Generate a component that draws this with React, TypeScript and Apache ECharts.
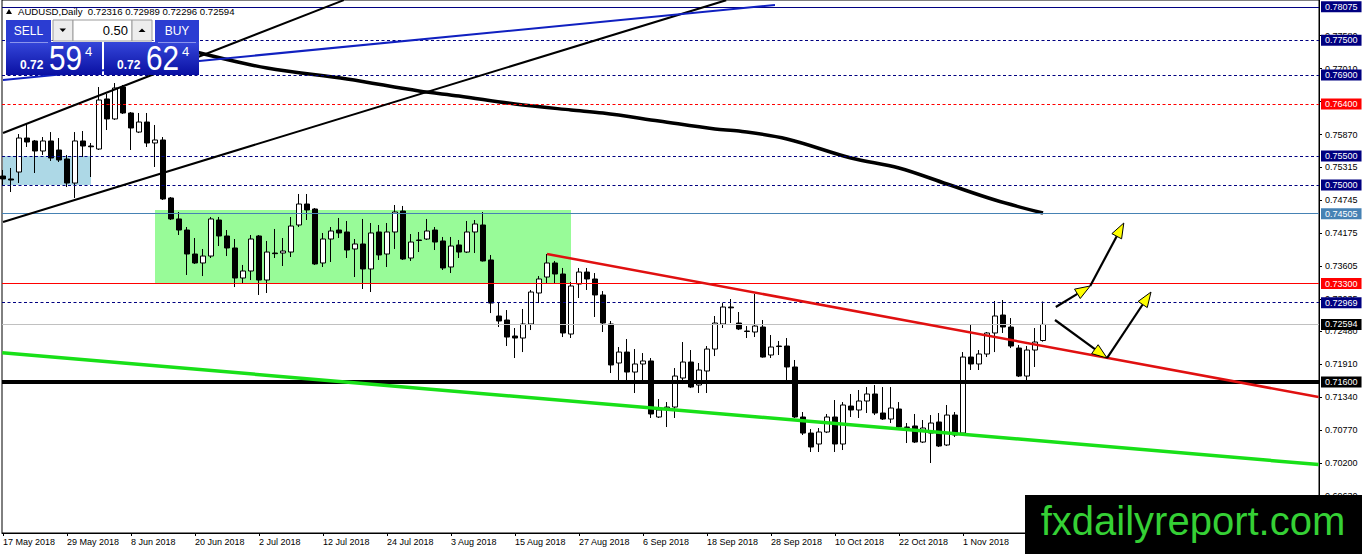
import React, { useEffect, useRef } from 'react';
import * as echarts from 'echarts';

// ---------- DATA ----------
// Daily AUDUSD candles from 17 May 2018: [open, close, low, high]
const ohlc: number[][] = [
  [0.75155, 0.75104, 0.74982, 0.75259],
  [0.75104, 0.75086, 0.74879, 0.75294],
  [0.75224, 0.75811, 0.75034, 0.75880],
  [0.75811, 0.75742, 0.75656, 0.76053],
  [0.75760, 0.75587, 0.75207, 0.75777],
  [0.75587, 0.75760, 0.75518, 0.75828],
  [0.75760, 0.75466, 0.75415, 0.75914],
  [0.75604, 0.75432, 0.75397, 0.75811],
  [0.75449, 0.75034, 0.74965, 0.75518],
  [0.75034, 0.75760, 0.74776, 0.75914],
  [0.75760, 0.75673, 0.75483, 0.75932],
  [0.75673, 0.75660, 0.75138, 0.75725],
  [0.75621, 0.76467, 0.75604, 0.76691],
  [0.76485, 0.76140, 0.75949, 0.76571],
  [0.76140, 0.76674, 0.76122, 0.76760],
  [0.76691, 0.76243, 0.76226, 0.76726],
  [0.76243, 0.75984, 0.75604, 0.76260],
  [0.75914, 0.76087, 0.75897, 0.76243],
  [0.76087, 0.75725, 0.75656, 0.76243],
  [0.75725, 0.75777, 0.75311, 0.76036],
  [0.75777, 0.74759, 0.74741, 0.75828],
  [0.74776, 0.74414, 0.74396, 0.74793],
  [0.74414, 0.74223, 0.74137, 0.74534],
  [0.74223, 0.73809, 0.73447, 0.74275],
  [0.73809, 0.73654, 0.73637, 0.74085],
  [0.73654, 0.73774, 0.73429, 0.73896],
  [0.73774, 0.74414, 0.73740, 0.74448],
  [0.74396, 0.74120, 0.73947, 0.74448],
  [0.74120, 0.73913, 0.73774, 0.74223],
  [0.73913, 0.73395, 0.73239, 0.74068],
  [0.73395, 0.73516, 0.73308, 0.73620],
  [0.73516, 0.74068, 0.73360, 0.74137],
  [0.74120, 0.73360, 0.73102, 0.74137],
  [0.73360, 0.73843, 0.73136, 0.74034],
  [0.73826, 0.73815, 0.73740, 0.74241],
  [0.73826, 0.73861, 0.73602, 0.74085],
  [0.73843, 0.74292, 0.73757, 0.74448],
  [0.74310, 0.74672, 0.74275, 0.74845],
  [0.74672, 0.74569, 0.74396, 0.74845],
  [0.74586, 0.73637, 0.73620, 0.74603],
  [0.73654, 0.74068, 0.73585, 0.74172],
  [0.74068, 0.74206, 0.73671, 0.74275],
  [0.74223, 0.74172, 0.74085, 0.74431],
  [0.74189, 0.73878, 0.73740, 0.74379],
  [0.73896, 0.73982, 0.73412, 0.74068],
  [0.73982, 0.73551, 0.73205, 0.74414],
  [0.73551, 0.74172, 0.73153, 0.74344],
  [0.74189, 0.73792, 0.73706, 0.74310],
  [0.73809, 0.74189, 0.73585, 0.74344],
  [0.74189, 0.74534, 0.73896, 0.74655],
  [0.74551, 0.73723, 0.73706, 0.74638],
  [0.73740, 0.74016, 0.73689, 0.74154],
  [0.74051, 0.74042, 0.73843, 0.74189],
  [0.74068, 0.74206, 0.74051, 0.74414],
  [0.74223, 0.74016, 0.73878, 0.74275],
  [0.74034, 0.73568, 0.73533, 0.74103],
  [0.73585, 0.73947, 0.73481, 0.74103],
  [0.73965, 0.73843, 0.73740, 0.74051],
  [0.73843, 0.74189, 0.73826, 0.74379],
  [0.74189, 0.74327, 0.73826, 0.74396],
  [0.74310, 0.73689, 0.73680, 0.74534],
  [0.73706, 0.72963, 0.72790, 0.73792],
  [0.72739, 0.72653, 0.72549, 0.72980],
  [0.72670, 0.72376, 0.72221, 0.72842],
  [0.72394, 0.72359, 0.72014, 0.72532],
  [0.72359, 0.72601, 0.72117, 0.72860],
  [0.72601, 0.73153, 0.72497, 0.73188],
  [0.73136, 0.73378, 0.72963, 0.73429],
  [0.73412, 0.73654, 0.73308, 0.73809],
  [0.73654, 0.73464, 0.73308, 0.73689],
  [0.73464, 0.72446, 0.72376, 0.73568],
  [0.72428, 0.73257, 0.72359, 0.73326],
  [0.73291, 0.73498, 0.73050, 0.73568],
  [0.73498, 0.73378, 0.73188, 0.73568],
  [0.73378, 0.73102, 0.72722, 0.73481],
  [0.73102, 0.72618, 0.72463, 0.73170],
  [0.72601, 0.71894, 0.71755, 0.72653],
  [0.71928, 0.72117, 0.71634, 0.72204],
  [0.72117, 0.71772, 0.71634, 0.72342],
  [0.71772, 0.71911, 0.71410, 0.72169],
  [0.71911, 0.71963, 0.71634, 0.72100],
  [0.71963, 0.71048, 0.70979, 0.72014],
  [0.70996, 0.71117, 0.70979, 0.71306],
  [0.71151, 0.71168, 0.70823, 0.71254],
  [0.71168, 0.71703, 0.70979, 0.71841],
  [0.71669, 0.71945, 0.71582, 0.72290],
  [0.71945, 0.71513, 0.71496, 0.72152],
  [0.71548, 0.71807, 0.71410, 0.71928],
  [0.71790, 0.72169, 0.71410, 0.72221],
  [0.72169, 0.72618, 0.72048, 0.72739],
  [0.72601, 0.72894, 0.72532, 0.72963],
  [0.72894, 0.72880, 0.72618, 0.73032],
  [0.72618, 0.72515, 0.72497, 0.72808],
  [0.72480, 0.72472, 0.72359, 0.72566],
  [0.72463, 0.72566, 0.72376, 0.73119],
  [0.72549, 0.72031, 0.72020, 0.72670],
  [0.72066, 0.72204, 0.72014, 0.72411],
  [0.72221, 0.72212, 0.72066, 0.72308],
  [0.72221, 0.71859, 0.71634, 0.72359],
  [0.71859, 0.70996, 0.70979, 0.71980],
  [0.70996, 0.70719, 0.70685, 0.71082],
  [0.70719, 0.70478, 0.70392, 0.70789],
  [0.70530, 0.70737, 0.70392, 0.70806],
  [0.70737, 0.70996, 0.70719, 0.71048],
  [0.70996, 0.70530, 0.70392, 0.71289],
  [0.70530, 0.71203, 0.70426, 0.71254],
  [0.71185, 0.71117, 0.70996, 0.71393],
  [0.71117, 0.71272, 0.70979, 0.71462],
  [0.71272, 0.71393, 0.71065, 0.71513],
  [0.71393, 0.71065, 0.71030, 0.71548],
  [0.71065, 0.70961, 0.70944, 0.71513],
  [0.70961, 0.71151, 0.70892, 0.71513],
  [0.71134, 0.70823, 0.70806, 0.71254],
  [0.70823, 0.70815, 0.70547, 0.70892],
  [0.70841, 0.70564, 0.70547, 0.71048],
  [0.70564, 0.70806, 0.70547, 0.70944],
  [0.70719, 0.70892, 0.70202, 0.71030],
  [0.70910, 0.70495, 0.70478, 0.71065],
  [0.70513, 0.71030, 0.70495, 0.71203],
  [0.71030, 0.70685, 0.70651, 0.71082],
  [0.70719, 0.72031, 0.70710, 0.72117],
  [0.72031, 0.71911, 0.71807, 0.72584],
  [0.71911, 0.72083, 0.71807, 0.72152],
  [0.72083, 0.72446, 0.72031, 0.72463],
  [0.72446, 0.72739, 0.72117, 0.72998],
  [0.72756, 0.72549, 0.72446, 0.73015],
  [0.72549, 0.72221, 0.72186, 0.72704],
  [0.72186, 0.71703, 0.71686, 0.72238],
  [0.71703, 0.72152, 0.71600, 0.72221],
  [0.72152, 0.72290, 0.71859, 0.72532],
  [0.72316, 0.72594, 0.72296, 0.72989],
];

// Date labels, one every 8 trading days starting at bar 0
const dateTickLabels = [
  '17 May 2018', '29 May 2018', '8 Jun 2018', '20 Jun 2018', '2 Jul 2018', '12 Jul 2018',
  '24 Jul 2018', '3 Aug 2018', '15 Aug 2018', '27 Aug 2018', '6 Sep 2018', '18 Sep 2018',
  '28 Sep 2018', '10 Oct 2018', '22 Oct 2018', '1 Nov 2018',
];
const BARS_PER_DATE_TICK = 8;

// Price scale tick labels
const priceTickLabels = [
  0.77580, 0.77010, 0.76440, 0.75870, 0.75315, 0.74745, 0.74175, 0.73605,
  0.73035, 0.72480, 0.71910, 0.71340, 0.70770, 0.70200, 0.69630,
];

// Horizontal price levels
const levelValues = [0.78075, 0.775, 0.769, 0.764, 0.755, 0.75, 0.74505, 0.733, 0.72969, 0.72594, 0.716];

// 200-day moving average, read at selected bars: [bar, price]
const maPoints: number[][] = [
  [24, 0.77300], [33, 0.77019], [43, 0.76830], [52, 0.76623], [57, 0.76536],
  [64, 0.76398], [71, 0.76295], [75, 0.76243], [82, 0.76105], [89, 0.75967],
  [92, 0.75932], [98, 0.75794], [106, 0.75466], [112, 0.75294], [118, 0.75017],
  [124, 0.74741], [130, 0.74517],
];

// Trend lines: [fromBar, fromPrice, toBar, toPrice]
const trendLines: number[][] = [
  [0, 0.75897, 42.6, 0.78190],      // upper black channel line
  [0, 0.74362, 90.4, 0.78190],      // lower black channel line
  [0, 0.76812, 96.5, 0.78107],      // blue line
  [68, 0.73809, 164.45, 0.71341],   // red descending trend line
  [-0.1, 0.72104, 164.45, 0.70176], // green support line
];

// Rectangles: [fromBar, topPrice, toBar, bottomPrice]
const zones: number[][] = [
  [0, 0.75500, 11, 0.75000],
  [19, 0.74570, 71, 0.73300],
];

// Projection arrows: [fromBar, fromPrice, toBar, toPrice]
const arrowSegments: number[][] = [
  [131.6, 0.72894, 135.9, 0.73257],
  [135.9, 0.73257, 140.1, 0.74344],
  [131.5, 0.72670, 138.0, 0.72014],
  [138.0, 0.72014, 143.5, 0.73153],
];

const headerText = 'AUDUSD,Daily  0.72316 0.72989 0.72296 0.72594';
const sellQuote = ['0.72', '59', '4'];
const buyQuote = ['0.72', '62', '4'];
const lotSize = '0.50';

// ---------- STYLES ----------
const FONT = "'Liberation Sans', Arial, sans-serif";
const NAVY = '#000080';
const DASH = [3, 2.5];
const levelStyles = [
  { color: NAVY, type: 'solid', width: 1, bg: NAVY },
  { color: NAVY, type: DASH, width: 1, bg: NAVY },
  { color: NAVY, type: DASH, width: 1, bg: NAVY },
  { color: '#FF0000', type: DASH, width: 1, bg: '#FF0000' },
  { color: NAVY, type: DASH, width: 1, bg: NAVY },
  { color: NAVY, type: DASH, width: 1, bg: NAVY },
  { color: '#4682B4', type: 'solid', width: 1, bg: '#4682B4' },
  { color: '#FF0000', type: 'solid', width: 1.2, bg: '#FF0000' },
  { color: NAVY, type: DASH, width: 1, bg: NAVY },
  { color: '#C0C0C0', type: 'solid', width: 1, bg: '#000000' },
  { color: '#000000', type: 'solid', width: 4, bg: '#000000' },
];
const trendStyles = [
  { color: '#000000', width: 2 },
  { color: '#000000', width: 2 },
  { color: '#1020C0', width: 2 },
  { color: '#E01010', width: 2.5 },
  { color: '#18E018', width: 3.5 },
];
const zoneColors = ['#ADD8E6', '#98FB98'];

const X_MIN = -0.125;
const X_MAX = 164.5;
const Y_MIN = 0.68994;
const Y_MAX = 0.78193;

function buildOption() {
  const tickBars = dateTickLabels.map((_, k) => k * BARS_PER_DATE_TICK);
  const blueGrad = () =>
    new echarts.graphic.LinearGradient(0, 0, 0, 1, [
      { offset: 0, color: '#3446DA' },
      { offset: 1, color: '#0A10A2' },
    ]);
  const Z = 100;
  const txt = (x: number, y: number, text: string, size: number, opts: any = {}) => ({
    type: 'text', x, y, z: Z, silent: true,
    scaleX: opts.scaleX ?? 1,
    style: {
      text, fill: opts.fill ?? '#fff', fontSize: size, fontFamily: FONT,
      fontWeight: opts.bold ? 'bold' : 'normal',
      align: opts.align ?? 'left', verticalAlign: 'middle',
    },
  });
  const graphicEls: any[] = [
    // header
    { type: 'polygon', z: Z, silent: true, shape: { points: [[6, 14], [12, 14], [9, 9]] }, style: { fill: '#000' } },
    txt(18, 11.5, headerText, 9.6, { fill: '#000' }),
    // trading panel
    { type: 'rect', z: Z, silent: true, shape: { x: 6, y: 20, width: 45, height: 22 }, style: { fill: '#2B3DD2' } },
    txt(28.5, 31, 'SELL', 12, { align: 'center' }),
    { type: 'rect', z: Z, silent: true, shape: { x: 53, y: 20, width: 20, height: 21 }, style: { fill: '#EDEDED', stroke: '#9C9C9C', lineWidth: 1 } },
    { type: 'polygon', z: Z, silent: true, shape: { points: [[59.5, 28.5], [66, 28.5], [62.75, 32]] }, style: { fill: '#000' } },
    { type: 'rect', z: Z, silent: true, shape: { x: 73, y: 20, width: 59, height: 21 }, style: { fill: '#fff', stroke: '#9C9C9C', lineWidth: 1 } },
    txt(128, 30.5, lotSize, 13, { fill: '#000', align: 'right' }),
    { type: 'rect', z: Z, silent: true, shape: { x: 132, y: 20, width: 20, height: 21 }, style: { fill: '#EDEDED', stroke: '#9C9C9C', lineWidth: 1 } },
    { type: 'polygon', z: Z, silent: true, shape: { points: [[138.5, 32], [145.5, 32], [142, 28.5]] }, style: { fill: '#000' } },
    { type: 'rect', z: Z, silent: true, shape: { x: 155, y: 20, width: 44, height: 22 }, style: { fill: '#2B3DD2' } },
    txt(177, 31, 'BUY', 12, { align: 'center' }),
    { type: 'rect', z: Z, silent: true, shape: { x: 6, y: 42, width: 96, height: 33 }, style: { fill: blueGrad() } },
    { type: 'rect', z: Z, silent: true, shape: { x: 104, y: 42, width: 95, height: 33 }, style: { fill: blueGrad() } },
    { type: 'line', z: Z, silent: true, shape: { x1: 10, y1: 42.5, x2: 48, y2: 42.5 }, style: { stroke: '#8A94EC', lineWidth: 1 } },
    { type: 'line', z: Z, silent: true, shape: { x1: 158, y1: 42.5, x2: 196, y2: 42.5 }, style: { stroke: '#8A94EC', lineWidth: 1 } },
    txt(20, 64.5, sellQuote[0], 12, { bold: true }),
    txt(49, 58.5, sellQuote[1], 35, { scaleX: 0.85 }),
    txt(85, 51, sellQuote[2], 13),
    txt(117, 64.5, buyQuote[0], 12, { bold: true }),
    txt(146, 58.5, buyQuote[1], 35, { scaleX: 0.85 }),
    txt(182, 51, buyQuote[2], 13),
    // watermark
    { type: 'rect', z: Z, silent: true, shape: { x: 1025, y: 495, width: 337, height: 59 }, style: { fill: '#000' } },
    txt(1193, 521, 'fxdailyreport.com', 40, { fill: '#35D035', align: 'center' }),
  ];

  return {
    animation: false,
    backgroundColor: '#ffffff',
    grid: {
      left: 2, right: 43, top: 0, bottom: 21,
      show: true, borderColor: '#000', borderWidth: 1, backgroundColor: '#fff',
    },
    xAxis: {
      type: 'value', min: X_MIN, max: X_MAX,
      axisLine: { show: true, onZero: false, lineStyle: { color: '#000', width: 1 } },
      splitLine: { show: false },
      axisTick: { show: true, customValues: tickBars, length: 3, lineStyle: { color: '#000' } },
      axisLabel: {
        customValues: tickBars,
        formatter: (v: number) => dateTickLabels[Math.round(v / BARS_PER_DATE_TICK)] ?? '',
        align: 'left', margin: 4, fontSize: 9, color: '#000', fontFamily: FONT,
      },
    },
    yAxis: {
      type: 'value', position: 'right', min: Y_MIN, max: Y_MAX, scale: true,
      axisLine: { show: true, onZero: false, lineStyle: { color: '#000', width: 1 } },
      splitLine: { show: false },
      axisTick: { show: true, customValues: priceTickLabels, length: 3, lineStyle: { color: '#000' } },
      axisLabel: {
        customValues: priceTickLabels,
        formatter: (v: number) => v.toFixed(5),
        margin: 6, fontSize: 9, color: '#000', fontFamily: FONT,
      },
    },
    series: [
      {
        name: 'zones', type: 'line', z: 1, silent: true,
        data: [[0, 0.75]], symbol: 'none', lineStyle: { opacity: 0 },
        markArea: {
          silent: true,
          data: zones.map((zn, i) => [
            { coord: [zn[0], zn[1]], itemStyle: { color: zoneColors[i], opacity: 1 } },
            { coord: [zn[2], zn[3]] },
          ]),
        },
      },
      {
        name: 'AUDUSD', type: 'candlestick', z: 3, silent: true,
        data: ohlc.map((c, i) => [i, c[0], c[1], c[2], c[3]]),
        encode: { x: 0, y: [1, 2, 3, 4] },
        barWidth: 5,
        itemStyle: {
          color: '#ffffff', color0: '#000000',
          borderColor: '#000000', borderColor0: '#000000', borderColorDoji: '#000000',
          borderWidth: 1,
        },
      },
      {
        name: 'levels', type: 'line', z: 4, silent: true,
        data: [[0, 0.75]], symbol: 'none', lineStyle: { opacity: 0 },
        markLine: {
          silent: true, symbol: ['none', 'none'], precision: 5,
          data: levelValues.map((v, i) => ({
            yAxis: v,
            lineStyle: { color: levelStyles[i].color, type: levelStyles[i].type as any, width: levelStyles[i].width },
            label: {
              show: true, position: 'end', distance: 2, formatter: v.toFixed(5),
              backgroundColor: levelStyles[i].bg, color: '#fff',
              fontSize: 9, fontFamily: FONT, padding: [1, 4, 0, 4], lineHeight: 10,
            },
          })),
        },
      },
      {
        name: 'trends', type: 'line', z: 4, silent: true,
        data: [[0, 0.75]], symbol: 'none', lineStyle: { opacity: 0 },
        markLine: {
          silent: true, symbol: ['none', 'none'], label: { show: false }, precision: 5,
          data: trendLines.map((t, i) => [
            { coord: [t[0], t[1]], lineStyle: { color: trendStyles[i].color, width: trendStyles[i].width, type: 'solid' } },
            { coord: [t[2], t[3]] },
          ]),
        },
      },
      {
        name: 'MA', type: 'line', z: 4, silent: true,
        data: maPoints, symbol: 'none', showSymbol: false, smooth: 0.35,
        lineStyle: { color: '#000', width: 3.5 },
      },
      {
        name: 'arrows', type: 'custom', z: 5, silent: true,
        data: arrowSegments,
        encode: { x: [0, 2], y: [1, 3] },
        renderItem: (_params: any, api: any) => {
          const a = api.coord([api.value(0), api.value(1)]);
          const b = api.coord([api.value(2), api.value(3)]);
          const dx = b[0] - a[0];
          const dy = b[1] - a[1];
          const len = Math.hypot(dx, dy) || 1;
          const ux = dx / len;
          const uy = dy / len;
          const hl = 15;
          const hw = 5.5;
          const bx = b[0] - ux * hl;
          const by = b[1] - uy * hl;
          return {
            type: 'group',
            children: [
              { type: 'line', shape: { x1: a[0], y1: a[1], x2: bx, y2: by }, style: { stroke: '#000', lineWidth: 2.2 } },
              {
                type: 'polygon',
                shape: { points: [[b[0], b[1]], [bx - uy * hw, by + ux * hw], [bx + uy * hw, by - ux * hw]] },
                style: { fill: '#FFFF00', stroke: '#000', lineWidth: 1 },
              },
            ],
          };
        },
      },
    ],
    graphic: { elements: graphicEls },
  };
}

export default function App() {
  const ref = useRef<HTMLDivElement>(null);
  useEffect(() => {
    if (!ref.current) return;
    const chart = echarts.init(ref.current, null, { renderer: 'svg' });
    chart.setOption(buildOption() as any);
    return () => chart.dispose();
  }, []);
  return (
    <div
      ref={ref}
      style={{ position: 'absolute', left: 0, top: 0, width: 1362, height: 554, background: '#fff' }}
    />
  );
}
